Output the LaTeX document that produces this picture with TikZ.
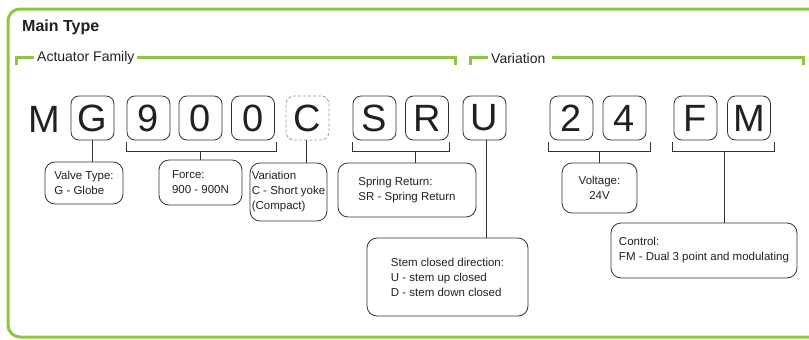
\documentclass[tikz,border=0pt]{standalone}
\usepackage{fontspec}
\setmainfont{Liberation Sans}
\usetikzlibrary{calc}
\definecolor{lgreen}{HTML}{8DC63F}
\definecolor{lline}{HTML}{333333}
\definecolor{ltext}{HTML}{231F20}
\tikzset{
  letterbox/.style={draw=lline, line width=0.8pt, rounded corners=8pt, minimum width=43pt, minimum height=44pt, inner sep=0pt, text=ltext, font=\fontsize{38}{40}\selectfont},
  dashbox/.style={letterbox, draw=gray!80, dash pattern=on 3pt off 2pt},
  plainletter/.style={inner sep=0pt, text=ltext, font=\fontsize{38}{40}\selectfont},
  infobox/.style={draw=lline, line width=0.8pt, rounded corners=10pt, inner sep=0pt, text=ltext, align=left, font=\fontsize{11.5}{15}\selectfont},
  conn/.style={draw=lline, line width=0.8pt},
  gline/.style={draw=lgreen, line width=3pt},
  glabel/.style={inner sep=0pt, anchor=west, text=ltext, font=\fontsize{14}{16}\selectfont},
}
\begin{document}
\begin{tikzpicture}[x=1pt,y=-1pt]
\useasboundingbox (0,0) rectangle (809,340);
% frame
\draw[gline, rounded corners=12pt] (812,9) -- (8,9) -- (8,337) -- (812,337);
\node[anchor=west, inner sep=0pt, text=ltext, font=\fontsize{16}{18}\selectfont\bfseries] (title) at (22,27) {Main Type};
% green brackets
\node[glabel] (fam) at (37,58) {Actuator Family};
\node[glabel] (var) at (491,58) {Variation};
\coordinate (fa1) at (16,65);
\coordinate (fa2) at (455,65);
\coordinate (va1) at (470,65);
\coordinate (va2) at (803,65);
\draw[gline] (fa1) |- ([xshift=-3pt]fam.west |- 0,57);
\draw[gline] ([xshift=2pt]fam.east |- 0,57) -| (fa2);
\draw[gline] (va1) |- ([xshift=-3pt]var.west |- 0,57);
\draw[gline] ([xshift=6pt]var.east |- 0,57) -| (va2);
% letters
\node[plainletter] (m1) at (44,119) {M};
\node[letterbox] (g) at (92.5,118) {G};
\node[letterbox] (n9) at (148.5,118) {9};
\node[letterbox] (n0a) at (200.5,118) {0};
\node[letterbox] (n0b) at (253,118) {0};
\node[dashbox] (c) at (307.5,118) {C};
\node[letterbox] (s) at (374.5,118) {S};
\node[letterbox] (r) at (427,118) {R};
\node[letterbox] (u) at (484.5,118) {U};
\node[letterbox] (n2) at (571.5,118) {2};
\node[letterbox] (n4) at (624.5,118) {4};
\node[letterbox] (f) at (695.5,118) {F};
\node[letterbox] (m2) at (749,118) {M};
% info boxes
\node[infobox, minimum width=78pt, minimum height=42pt] (valve) at (84,183) {Valve Type:\\G - Globe};
\node[infobox, minimum width=83pt, minimum height=45pt] (force) at (200.5,182.5) {Force:\\900 - 900N};
\node[infobox, minimum width=77pt, minimum height=58pt] (varc) at (288.5,192) {Variation\\C - Short yoke\\(Compact)};
\node[infobox, minimum width=138pt, minimum height=54pt] (spring) at (407,190) {Spring Return:\\SR - Spring Return};
\node[infobox, minimum width=161pt, minimum height=78pt] (stem) at (447.5,277) {Stem closed direction:\\U - stem up closed\\D - stem down closed};
\node[infobox, align=center, minimum width=75pt, minimum height=50pt] (volt) at (599.5,188) {Voltage:\\24V};
\node[infobox, minimum width=186pt, minimum height=55pt] (ctrl) at (704,250.5) {Control:\\FM - Dual 3 point and modulating};
% connectors
\coordinate (b1l) at ($(n9.south west)+(0,2)$);
\coordinate (b1r) at ($(n0b.south east)+(1,2)$);
\coordinate (b2l) at ($(s.south west)+(0,2)$);
\coordinate (b2r) at ($(r.south east)+(0,2)$);
\coordinate (b3l) at ($(n2.south west)+(-1,2)$);
\coordinate (b3r) at ($(n4.south east)+(4,2)$);
\coordinate (b4l) at ($(f.south west)+(-1,2)$);
\coordinate (b4r) at ($(m2.south east)+(3,2)$);
\draw[conn] (b1l) -- ++(0,9) -| (b1r);
\draw[conn] (b2l) -- ++(0,9) -| (b2r);
\draw[conn] (b3l) -- ++(0,9) -| (b3r);
\draw[conn] (b4l) -- ++(0,9) -| (b4r);
\draw[conn] (g.south) -- (g.south |- valve.north);
\draw[conn] (force.north) -- (force.north |- 0,151);
\draw[conn] (c.south -| 306,0) -- (306,0 |- varc.north);
\draw[conn] (415,151) -- (415,0 |- spring.north);
\draw[conn] (u.south -| 486,0) -- (486,0 |- stem.north);
\draw[conn] (599,151) -- (599,0 |- volt.north);
\draw[conn] (724,151) -- (724,0 |- ctrl.north);
\end{tikzpicture}
\end{document}
